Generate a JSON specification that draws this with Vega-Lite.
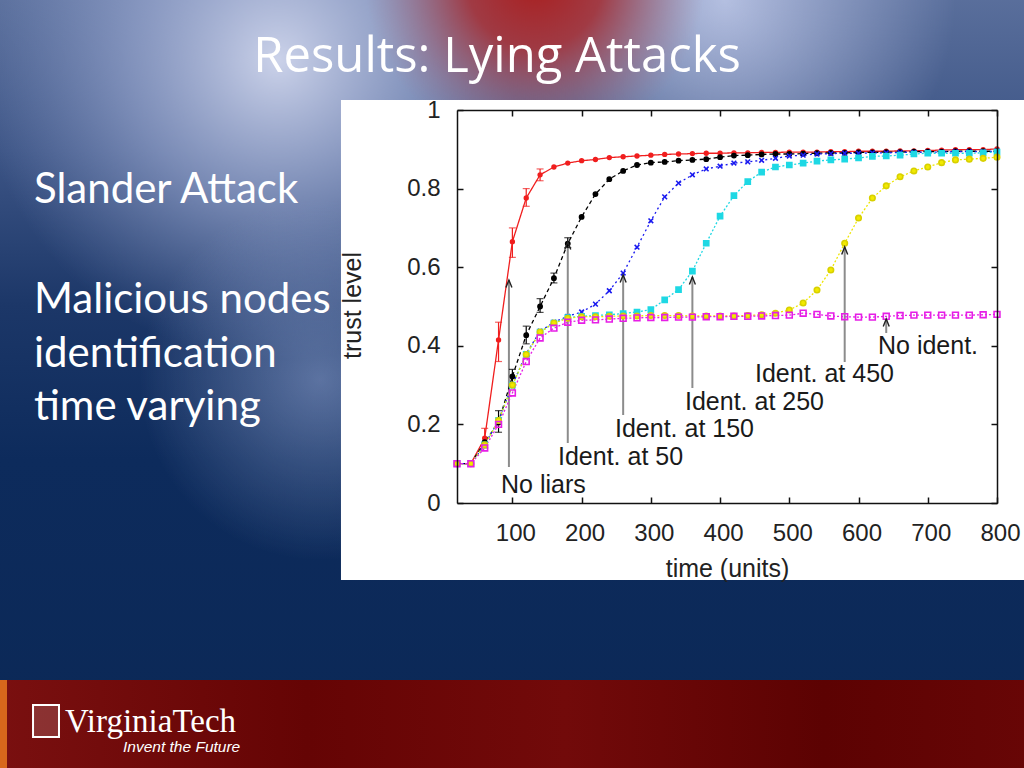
{
  "$schema": "https://vega.github.io/schema/vega-lite/v6.json",
  "width": 540,
  "height": 393,
  "autosize": {"type": "none"},
  "padding": {"left": 457, "top": 110, "right": 27, "bottom": 265},
  "background": "#0c2a5a",
  "config": {
    "view": {"stroke": null},
    "axis": {
      "zindex": 2, "grid": false, "labelFlush": false,
      "domainColor": "#111", "domainWidth": 1.5,
      "tickColor": "#111", "tickWidth": 1.5, "tickSize": -6,
      "labelFont": "Liberation Sans", "labelFontSize": 24, "labelColor": "#222",
      "titleFont": "Liberation Sans", "titleFontSize": 25, "titleFontWeight": "normal", "titleColor": "#222"
    }
  },
  "resolve": {"axis": {"x": "independent", "y": "independent"}},
  "encoding": {
    "x": {"field": "x", "type": "quantitative", "scale": {"domain": [20, 800], "nice": false, "zero": false}, "axis": null},
    "y": {"field": "y", "type": "quantitative", "scale": {"domain": [0, 1], "nice": false, "zero": false}, "axis": null}
  },
  "layer": [
    {
      "data": {"values": [{"x": -645, "x2": 848, "y": 1.292, "y2": -0.68}]},
      "mark": {"type": "rect", "fill": {"gradient": "linear", "x1": 0, "y1": 0, "x2": 0, "y2": 1, "stops": [
        {"offset": 0, "color": "#5a6f9c"}, {"offset": 0.2, "color": "#3d5586"}, {"offset": 0.4, "color": "#1c3768"}, {"offset": 0.6, "color": "#0d2b5c"}, {"offset": 1, "color": "#0b2856"}]}},
      "encoding": {"x2": {"field": "x2"}, "y2": {"field": "y2"}}
    },
    {
      "data": {"values": [{"x": -671.9, "x2": 194.8, "y": 1.8906, "y2": 0.3639}]},
      "mark": {"type": "rect", "fill": {"gradient": "radial", "x1": 0.5, "y1": 0.5, "r1": 0, "x2": 0.5, "y2": 0.5, "r2": 0.5, "stops": [
        {"offset": 0, "color": "rgba(210,216,238,0.95)"}, {"offset": 0.5, "color": "rgba(170,182,220,0.55)"}, {"offset": 1, "color": "rgba(150,165,210,0)"}]}},
      "encoding": {"x2": {"field": "x2"}, "y2": {"field": "y2"}}
    },
    {
      "data": {"values": [{"x": -437.9, "x2": 82.1, "y": 0.771, "y2": -0.145}]},
      "mark": {"type": "rect", "fill": {"gradient": "radial", "x1": 0.5, "y1": 0.5, "r1": 0, "x2": 0.5, "y2": 0.5, "r2": 0.5, "stops": [
        {"offset": 0, "color": "rgba(150,168,212,0.55)"}, {"offset": 1, "color": "rgba(150,168,212,0)"}]}},
      "encoding": {"x2": {"field": "x2"}, "y2": {"field": "y2"}}
    },
    {
      "data": {"values": [{"x": 74.9, "x2": 739.3, "y": 1.8651, "y2": 0.6947}]},
      "mark": {"type": "rect", "fill": {"gradient": "radial", "x1": 0.5, "y1": 0.5, "r1": 0, "x2": 0.5, "y2": 0.5, "r2": 0.5, "stops": [
        {"offset": 0, "color": "rgba(190,200,232,0.9)"}, {"offset": 1, "color": "rgba(180,190,225,0)"}]}},
      "encoding": {"x2": {"field": "x2"}, "y2": {"field": "y2"}}
    },
    {
      "data": {"values": [{"x": -112.9, "x2": 378.2, "y": 1.7634, "y2": 0.8982}]},
      "mark": {"type": "rect", "fill": {"gradient": "radial", "x1": 0.5, "y1": 0.5, "r1": 0, "x2": 0.5, "y2": 0.5, "r2": 0.5, "stops": [
        {"offset": 0, "color": "rgba(170,30,30,1)"}, {"offset": 0.4, "color": "rgba(165,50,56,0.9)"}, {"offset": 1, "color": "rgba(165,110,130,0)"}]}},
      "encoding": {"x2": {"field": "x2"}, "y2": {"field": "y2"}}
    },
    {
      "data": {"values": [{"x": -645, "x2": 848, "y": -0.4504, "y2": -0.68}]},
      "mark": {"type": "rect", "fill": {"gradient": "linear", "x1": 0, "y1": 0, "x2": 1, "y2": 0, "stops": [
        {"offset": 0, "color": "#7a1010"}, {"offset": 0.3, "color": "#650404"}, {"offset": 0.55, "color": "#720a0a"}, {"offset": 0.8, "color": "#5c0202"}, {"offset": 1, "color": "#680606"}]}},
      "encoding": {"x2": {"field": "x2"}, "y2": {"field": "y2"}}
    },
    {
      "data": {"values": [{"x": -645, "x2": -630, "y": -0.4504, "y2": -0.68}]},
      "mark": {"type": "rect", "fill": "#d8681c"},
      "encoding": {"x2": {"field": "x2"}, "y2": {"field": "y2"}}
    },
    {
      "data": {"values": [{"x": -592.4, "x2": -554.9, "y": -0.514, "y2": -0.5954}]},
      "mark": {"type": "rect", "fill": "rgba(255,255,255,0.15)", "stroke": "#ffffff", "strokeWidth": 2},
      "encoding": {"x2": {"field": "x2"}, "y2": {"field": "y2"}}
    },
    {
      "data": {"values": [{"x": -147.6, "x2": 848, "y": 1.0254, "y2": -0.1959}]},
      "mark": {"type": "rect", "fill": "#ffffff"},
      "encoding": {"x2": {"field": "x2"}, "y2": {"field": "y2"}}
    },
    {
      "data": {"values": [
        {"x": 95, "y": 0.0916, "y2": 0.5674},
        {"x": 180, "y": 0.1527, "y2": 0.6641},
        {"x": 260, "y": 0.2239, "y2": 0.5802},
        {"x": 360, "y": 0.2926, "y2": 0.5751},
        {"x": 580, "y": 0.3588, "y2": 0.6514},
        {"x": 640, "y": 0.4326, "y2": 0.4682}
      ]},
      "mark": {"type": "rule", "color": "#8c8c8c", "strokeWidth": 2},
      "encoding": {
        "x": {"field": "x", "type": "quantitative", "scale": {"domain": [20, 800], "nice": false, "zero": false},
              "axis": {"orient": "top", "zindex": 2, "values": [100, 200, 300, 400, 500, 600, 700, 800], "labels": false, "title": null}},
        "y": {"field": "y", "type": "quantitative", "scale": {"domain": [0, 1], "nice": false, "zero": false},
              "axis": {"orient": "right", "zindex": 2, "values": [0, 0.2, 0.4, 0.6, 0.8, 1], "labels": false, "title": null}},
        "y2": {"field": "y2"}
      }
    },
    {
      "data": {"values": [
        {"x": 60, "y": 0.14, "y2": 0.19, "s": "noliars"},
        {"x": 80, "y": 0.36, "y2": 0.46, "s": "noliars"},
        {"x": 100, "y": 0.625, "y2": 0.70, "s": "noliars"},
        {"x": 120, "y": 0.755, "y2": 0.80, "s": "noliars"},
        {"x": 140, "y": 0.82, "y2": 0.85, "s": "noliars"},
        {"x": 80, "y": 0.18, "y2": 0.235, "s": "id50"},
        {"x": 100, "y": 0.30, "y2": 0.34, "s": "id50"},
        {"x": 120, "y": 0.405, "y2": 0.45, "s": "id50"},
        {"x": 140, "y": 0.485, "y2": 0.52, "s": "id50"},
        {"x": 160, "y": 0.56, "y2": 0.585, "s": "id50"},
        {"x": 180, "y": 0.65, "y2": 0.675, "s": "id50"}
      ]},
      "mark": {"type": "errorbar", "ticks": {"size": 7}, "thickness": 1.2},
      "encoding": {
        "y2": {"field": "y2"},
        "color": {"field": "s", "type": "nominal", "legend": null,
                  "scale": {"domain": ["noliars", "id50", "id150", "id250", "id450", "noident"],
                            "range": ["#f01e1e", "#000000", "#1a1af0", "#1ed8e4", "#eee600", "#e61ee6"]}}
      }
    },
    {
      "data": {"name": "series", "values": [
        {"x": 20, "noliars": 0.100, "id50": 0.100, "id150": 0.100, "id250": 0.100, "id450": 0.100, "noident": 0.100},
        {"x": 40, "noliars": 0.100, "id50": 0.100, "id150": 0.100, "id250": 0.100, "id450": 0.100, "noident": 0.100},
        {"x": 60, "noliars": 0.165, "id50": 0.155, "id150": 0.148, "id250": 0.148, "id450": 0.148, "noident": 0.140},
        {"x": 80, "noliars": 0.415, "id50": 0.205, "id150": 0.210, "id250": 0.210, "id450": 0.210, "noident": 0.200},
        {"x": 100, "noliars": 0.665, "id50": 0.322, "id150": 0.300, "id250": 0.300, "id450": 0.300, "noident": 0.280},
        {"x": 120, "noliars": 0.776, "id50": 0.427, "id150": 0.380, "id250": 0.378, "id450": 0.378, "noident": 0.360},
        {"x": 140, "noliars": 0.835, "id50": 0.500, "id150": 0.437, "id250": 0.435, "id450": 0.435, "noident": 0.420},
        {"x": 160, "noliars": 0.855, "id50": 0.572, "id150": 0.460, "id250": 0.458, "id450": 0.458, "noident": 0.445},
        {"x": 180, "noliars": 0.865, "id50": 0.660, "id150": 0.475, "id250": 0.472, "id450": 0.470, "noident": 0.460},
        {"x": 200, "noliars": 0.871, "id50": 0.728, "id150": 0.486, "id250": 0.475, "id450": 0.474, "noident": 0.465},
        {"x": 220, "noliars": 0.874, "id50": 0.786, "id150": 0.506, "id250": 0.477, "id450": 0.474, "noident": 0.466},
        {"x": 240, "noliars": 0.879, "id50": 0.824, "id150": 0.540, "id250": 0.479, "id450": 0.475, "noident": 0.468},
        {"x": 260, "noliars": 0.881, "id50": 0.845, "id150": 0.585, "id250": 0.482, "id450": 0.476, "noident": 0.470},
        {"x": 280, "noliars": 0.883, "id50": 0.860, "id150": 0.651, "id250": 0.486, "id450": 0.476, "noident": 0.471},
        {"x": 300, "noliars": 0.885, "id50": 0.866, "id150": 0.718, "id250": 0.492, "id450": 0.477, "noident": 0.472},
        {"x": 320, "noliars": 0.887, "id50": 0.868, "id150": 0.779, "id250": 0.517, "id450": 0.477, "noident": 0.472},
        {"x": 340, "noliars": 0.888, "id50": 0.871, "id150": 0.814, "id250": 0.543, "id450": 0.477, "noident": 0.473},
        {"x": 360, "noliars": 0.889, "id50": 0.873, "id150": 0.835, "id250": 0.590, "id450": 0.476, "noident": 0.473},
        {"x": 380, "noliars": 0.890, "id50": 0.875, "id150": 0.850, "id250": 0.661, "id450": 0.476, "noident": 0.474},
        {"x": 400, "noliars": 0.890, "id50": 0.880, "id150": 0.857, "id250": 0.730, "id450": 0.476, "noident": 0.474},
        {"x": 420, "noliars": 0.891, "id50": 0.884, "id150": 0.865, "id250": 0.782, "id450": 0.476, "noident": 0.475},
        {"x": 440, "noliars": 0.891, "id50": 0.885, "id150": 0.868, "id250": 0.818, "id450": 0.477, "noident": 0.475},
        {"x": 460, "noliars": 0.892, "id50": 0.887, "id150": 0.872, "id250": 0.842, "id450": 0.479, "noident": 0.476},
        {"x": 480, "noliars": 0.892, "id50": 0.888, "id150": 0.877, "id250": 0.855, "id450": 0.483, "noident": 0.477},
        {"x": 500, "noliars": 0.893, "id50": 0.888, "id150": 0.883, "id250": 0.860, "id450": 0.491, "noident": 0.478},
        {"x": 520, "noliars": 0.893, "id50": 0.889, "id150": 0.885, "id250": 0.865, "id450": 0.509, "noident": 0.483},
        {"x": 540, "noliars": 0.893, "id50": 0.890, "id150": 0.888, "id250": 0.870, "id450": 0.542, "noident": 0.480},
        {"x": 560, "noliars": 0.894, "id50": 0.891, "id150": 0.889, "id250": 0.873, "id450": 0.593, "noident": 0.476},
        {"x": 580, "noliars": 0.894, "id50": 0.891, "id150": 0.890, "id250": 0.875, "id450": 0.661, "noident": 0.474},
        {"x": 600, "noliars": 0.895, "id50": 0.892, "id150": 0.890, "id250": 0.878, "id450": 0.725, "noident": 0.473},
        {"x": 620, "noliars": 0.895, "id50": 0.892, "id150": 0.891, "id250": 0.882, "id450": 0.776, "noident": 0.473},
        {"x": 640, "noliars": 0.895, "id50": 0.893, "id150": 0.891, "id250": 0.883, "id450": 0.807, "noident": 0.475},
        {"x": 660, "noliars": 0.896, "id50": 0.893, "id150": 0.892, "id250": 0.885, "id450": 0.830, "noident": 0.477},
        {"x": 680, "noliars": 0.896, "id50": 0.894, "id150": 0.892, "id250": 0.888, "id450": 0.845, "noident": 0.478},
        {"x": 700, "noliars": 0.897, "id50": 0.894, "id150": 0.893, "id250": 0.890, "id450": 0.855, "noident": 0.478},
        {"x": 720, "noliars": 0.898, "id50": 0.894, "id150": 0.893, "id250": 0.890, "id450": 0.866, "noident": 0.478},
        {"x": 740, "noliars": 0.899, "id50": 0.895, "id150": 0.894, "id250": 0.890, "id450": 0.873, "noident": 0.478},
        {"x": 760, "noliars": 0.899, "id50": 0.895, "id150": 0.894, "id250": 0.890, "id450": 0.875, "noident": 0.478},
        {"x": 780, "noliars": 0.899, "id50": 0.895, "id150": 0.894, "id250": 0.891, "id450": 0.877, "noident": 0.479},
        {"x": 800, "noliars": 0.901, "id50": 0.895, "id150": 0.895, "id250": 0.893, "id450": 0.880, "noident": 0.480}
      ]},
      "transform": [{"fold": ["noliars", "id50", "id150", "id250", "id450", "noident"], "as": ["s", "y"]}],
      "layer": [
        {
          "mark": {"type": "line", "strokeWidth": 1.3},
          "encoding": {
            "color": {"field": "s", "type": "nominal", "legend": null,
                      "scale": {"domain": ["noliars", "id50", "id150", "id250", "id450", "noident"],
                                "range": ["#f01e1e", "#000000", "#1a1af0", "#1ed8e4", "#eee600", "#e61ee6"]}},
            "strokeDash": {"field": "s", "type": "nominal", "legend": null,
                           "scale": {"domain": ["noliars", "id50", "id150", "id250", "id450", "noident"],
                                     "range": [[1, 0], [4, 3], [2, 3], [2, 2], [2, 2], [2, 2]]}}
          }
        },
        {
          "mark": {"type": "point", "strokeWidth": 1.6, "opacity": 1},
          "encoding": {
            "shape": {"field": "s", "type": "nominal", "legend": null,
                      "scale": {"domain": ["noliars", "id50", "id150", "id250", "id450", "noident"],
                                "range": ["circle", "circle", "M-1,-1L1,1M1,-1L-1,1", "square", "circle", "square"]}},
            "fill": {"field": "s", "type": "nominal", "legend": null,
                     "scale": {"domain": ["noliars", "id50", "id150", "id250", "id450", "noident"],
                               "range": ["#f01e1e", "#000000", "#1a1af0", "#1ed8e4", "#f2ea00", "rgba(0,0,0,0)"]}},
            "stroke": {"field": "s", "type": "nominal", "legend": null,
                       "scale": {"domain": ["noliars", "id50", "id150", "id250", "id450", "noident"],
                                 "range": ["#f01e1e", "#000000", "#1a1af0", "#1ed8e4", "#d8d000", "#e61ee6"]}},
            "size": {"field": "s", "type": "nominal", "legend": null,
                     "scale": {"domain": ["noliars", "id50", "id150", "id250", "id450", "noident"],
                               "range": [14, 34, 40, 50, 40, 36]}}
          }
        }
      ]
    },
    {
      "data": {"values": [
        {"x": 95, "y": 0.5674}, {"x": 180, "y": 0.6641}, {"x": 260, "y": 0.5802},
        {"x": 360, "y": 0.5751}, {"x": 580, "y": 0.6514}, {"x": 640, "y": 0.4682}
      ]},
      "mark": {"type": "point", "shape": "M-1,2.5L0,0L1,2.5", "size": 36, "stroke": "#222", "strokeWidth": 1.4, "fill": "rgba(0,0,0,0)", "opacity": 1},
      "encoding": {
        "x": {"field": "x", "type": "quantitative", "scale": {"domain": [20, 800], "nice": false, "zero": false},
              "axis": {"orient": "bottom", "zindex": 2, "values": [100, 200, 300, 400, 500, 600, 700, 800], "format": "d", "labelFlush": false,
                       "labelPadding": 24, "labelOffset": 3, "title": "time (units)", "titleX": 270, "titleY": 65, "titleBaseline": "middle"}},
        "y": {"field": "y", "type": "quantitative", "scale": {"domain": [0, 1], "nice": false, "zero": false},
              "axis": {"orient": "left", "zindex": 2, "values": [0, 0.2, 0.4, 0.6, 0.8, 1], "format": "~g", "labelFlush": false,
                       "labelPadding": 23, "title": "trust level", "titleX": -105, "titleY": 195, "titleBaseline": "middle", "titleAngle": -90}}
      }
    },
    {
      "data": {"values": [
        {"x": 83.6, "y": 0.0254, "label": "No liars"},
        {"x": 165.9, "y": 0.0967, "label": "Ident. at 50"},
        {"x": 248.2, "y": 0.1679, "label": "Ident. at 150"},
        {"x": 349.3, "y": 0.2366, "label": "Ident. at 250"},
        {"x": 450.4, "y": 0.3079, "label": "Ident. at 450"},
        {"x": 628.1, "y": 0.3791, "label": "No ident."}
      ]},
      "mark": {"type": "text", "align": "left", "baseline": "alphabetic", "font": "Liberation Sans", "fontSize": 25, "color": "#1a1a1a"},
      "encoding": {"text": {"field": "label"}}
    },
    {
      "data": {"values": [
        {"x": 77.8, "y": 1.0967, "label": "Results: Lying Attacks"}
      ]},
      "mark": {"type": "text", "align": "center", "baseline": "alphabetic", "font": "Open Sans", "fontSize": 49, "color": "#ffffff"},
      "encoding": {"text": {"field": "label"}}
    },
    {
      "data": {"values": [
        {"x": -591, "y": 0.7634, "label": "Slander Attack"},
        {"x": -591, "y": 0.4835, "label": "Malicious nodes"},
        {"x": -591, "y": 0.3461, "label": "identification"},
        {"x": -591, "y": 0.2112, "label": "time varying"}
      ]},
      "mark": {"type": "text", "align": "left", "baseline": "alphabetic", "font": "Lato", "fontSize": 42, "color": "#ffffff"},
      "encoding": {"text": {"field": "label"}}
    },
    {
      "data": {"values": [{"x": -546.2, "y": -0.5827, "label": "VirginiaTech"}]},
      "mark": {"type": "text", "align": "left", "baseline": "alphabetic", "font": "Liberation Serif", "fontSize": 33, "color": "#ffffff"},
      "encoding": {"text": {"field": "label"}}
    },
    {
      "data": {"values": [{"x": -462.4, "y": -0.6336, "label": "Invent the Future"}]},
      "mark": {"type": "text", "align": "left", "baseline": "alphabetic", "font": "Liberation Sans", "fontStyle": "italic", "fontSize": 15.5, "color": "#ffffff"},
      "encoding": {"text": {"field": "label"}}
    }
  ]
}
